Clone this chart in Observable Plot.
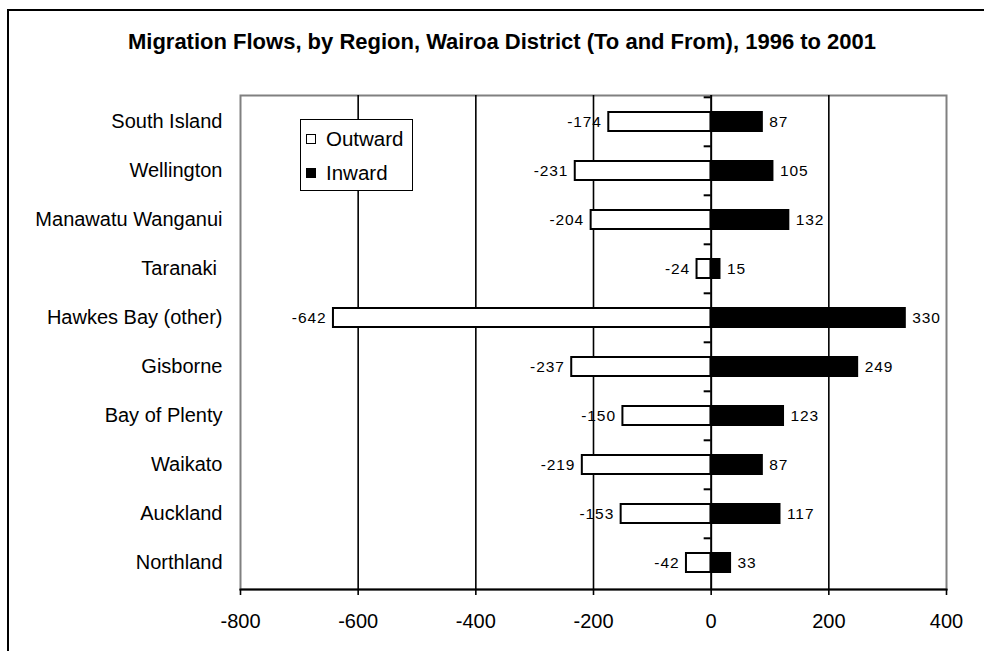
<!DOCTYPE html>
<html>
<head>
<meta charset="utf-8">
<script src="https://cdn.jsdelivr.net/npm/d3@7"></script>
<script src="https://cdn.jsdelivr.net/npm/@observablehq/plot@0.6"></script>
<style>
  html, body { margin: 0; padding: 0; background: #fff; }
  #wrap { position: relative; width: 984px; height: 651px; overflow: hidden; font-family: "Liberation Sans", Arial, sans-serif; }
  #border { position: absolute; left: 7px; top: 9px; width: 1200px; height: 900px; border-left: 2px solid #000; border-top: 2px solid #000; }
  #title { position: absolute; left: 0; width: 1004px; top: 30px; line-height: 24px; text-align: center; font-weight: bold; font-size: 22px; color: #000; }
  #chart { position: absolute; left: 0; top: 0; }
  #chart svg g[aria-label="text"] text { letter-spacing: 0.9px; }
  #legend { position: absolute; left: 300px; top: 119px; width: 111px; height: 70px; border: 1.5px solid #000; background: #fff; }
  .item { position: absolute; left: 0; height: 24px; line-height: 24px; font-size: 20.5px; color: #000; }
  .sw { position: absolute; left: 5px; top: 7px; width: 8px; height: 8px; border: 1.5px solid #000; }
  .lab { position: absolute; left: 25px; top: 0; white-space: nowrap; }
</style>
</head>
<body>
<div id="wrap">
  <div id="border"></div>
  <div id="chart"></div>
  <div id="title"></div>
  <div id="legend"></div>
</div>
<script>
// ---- data ----
const title = "Migration Flows, by Region, Wairoa District (To and From), 1996 to 2001";
const regions = ["South Island", "Wellington", "Manawatu Wanganui", "Taranaki", "Hawkes Bay (other)", "Gisborne", "Bay of Plenty", "Waikato", "Auckland", "Northland"];
const outward = [-174, -231, -204, -24, -642, -237, -150, -219, -153, -42];
const inward = [87, 105, 132, 15, 330, 249, 123, 87, 117, 33];
const xTicks = [-800, -600, -400, -200, 0, 200, 400];
const gridValues = [-600, -400, -200, 200];
const seriesNames = ["Outward", "Inward"];
const seriesFills = ["#fff", "#000"];

// ---- layout ----
const W = 984, H = 651;
const mTop = 95, mBottom = 62, mLeft = 240, mRight = 38;
const step = (H - mTop - mBottom) / regions.length;

const rows = regions.map((r, i) => ({region: r, out: outward[i], inw: inward[i]}));
const font = "'Liberation Sans', Arial, sans-serif";

const chart = Plot.plot({
  width: W,
  height: H,
  marginTop: mTop,
  marginBottom: mBottom,
  marginLeft: mLeft,
  marginRight: mRight,
  style: {fontFamily: font, fontSize: "20px", color: "#000", background: "transparent", overflow: "visible"},
  x: {domain: [-800, 400], label: null},
  y: {type: "band", domain: regions, paddingInner: 0.61, paddingOuter: 0.305, label: null},
  marks: [
    Plot.frame({stroke: "#808080", strokeWidth: 2}),
    Plot.ruleX(gridValues, {stroke: "#000", strokeWidth: 1.6}),
    Plot.ruleX([0], {stroke: "#000", strokeWidth: 2}),
    Plot.ruleY(regions, {y: d => d, x1: 0, x2: 0, insetLeft: -7, dy: -step / 2, stroke: "#000", strokeWidth: 2}),
    Plot.barX(rows, {x: "out", y: "region", fill: seriesFills[0], stroke: "#000", strokeWidth: 2}),
    Plot.barX(rows, {x: "inw", y: "region", fill: seriesFills[1], stroke: "#000", strokeWidth: 2}),
    Plot.text(rows, {x: "out", y: "region", text: d => String(d.out), textAnchor: "end", dx: -7, fontSize: 15.5, fill: "#000"}),
    Plot.text(rows, {x: "inw", y: "region", text: d => String(d.inw), textAnchor: "start", dx: 7, fontSize: 15.5, fill: "#000"}),
    Plot.frame({anchor: "bottom", stroke: "#000", strokeWidth: 2}),
    Plot.axisX({ticks: xTicks, tickSize: 6, tickPadding: 18, tickFormat: d => String(d), fontSize: 20, stroke: "#000", strokeWidth: 1.6, fill: "#000", label: null}),
    Plot.axisY({tickSize: 0, tickPadding: 18, fontSize: 20, fill: "#000", label: null, tickFormat: d => d === "Taranaki" ? "Taranaki\u00a0" : d})
  ]
});
document.getElementById("chart").appendChild(chart);

document.getElementById("title").textContent = title;

const legend = document.getElementById("legend");
seriesNames.forEach((name, i) => {
  const item = document.createElement("div");
  item.className = "item";
  item.style.top = (7 + i * 34) + "px";
  item.innerHTML = `<div class="sw" style="background:${seriesFills[i]}"></div><div class="lab">${name}</div>`;
  legend.appendChild(item);
});
</script>
</body>
</html>
